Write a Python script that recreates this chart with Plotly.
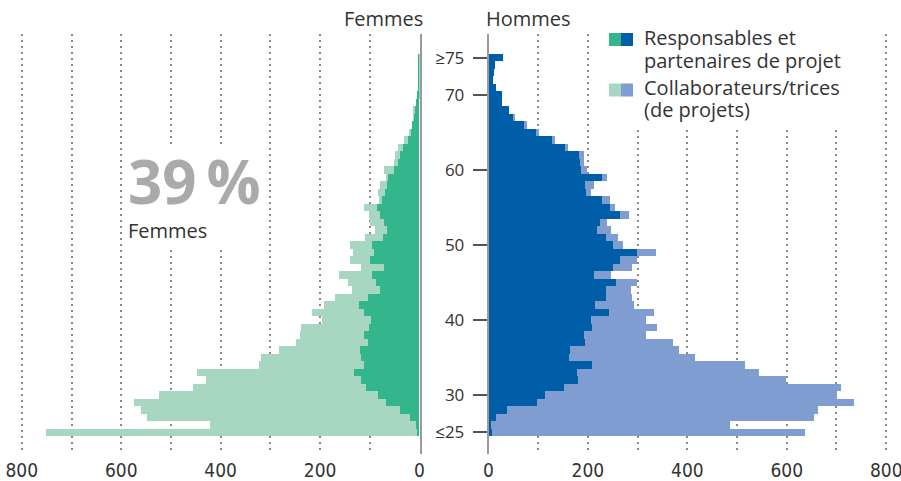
import plotly.graph_objects as go

# Ages 25 (<=25) .. 75 (>=75)
ages = list(range(25, 76))

# Femmes
f_resp = [5, 7, 19, 39, 67, 83, 107, 117, 132, 111, 117, 119, 103, 111, 101, 97, 111, 121, 103, 79,
          87, 95, 71, 99, 91, 95, 73, 65, 71, 79, 85, 75, 69, 65, 63, 51, 42, 39, 33, 23,
          17, 15, 11, 9, 7, 4, 3, 3, 3, 2, 3]
f_coll = [745, 414, 529, 521, 507, 441, 349, 311, 314, 212, 202, 164, 145, 129, 137, 99, 105, 71, 67, 57,
          57, 67, 47, 41, 43, 45, 36, 23, 28, 22, 26, 6, 14, 14, 2, 20, 8, 10, 9, 8,
          4, 0, 1, 2, 0, 0, 0, 0, 0, 0, 0]

# Hommes
h_resp = [7, 5, 15, 37, 97, 113, 150, 180, 178, 208, 160, 162, 194, 192, 208, 206, 242, 214, 236, 236,
          256, 212, 250, 264, 298, 250, 236, 218, 224, 264, 244, 228, 196, 194, 228, 186, 183, 181, 152, 128,
          95, 71, 48, 40, 27, 27, 14, 8, 10, 12, 28]
h_coll = [628, 479, 638, 624, 638, 588, 559, 417, 366, 306, 255, 221, 177, 123, 129, 109, 90, 77, 51, 49,
          41, 34, 37, 33, 37, 20, 24, 28, 14, 17, 10, 16, 10, 18, 10, 12, 8, 10, 6, 4,
          6, 5, 5, 0, 0, 0, 0, 0, 0, 0, 0]

age_tickvals = [25, 30, 40, 50, 60, 70, 75]
age_ticktext = ["≤25", "30", "40", "50", "60", "70", "≥75"]
x_tickvals = [0, 100, 200, 300, 400, 500, 600, 700, 800]
x_ticktext = ["0", "", "200", "", "400", "", "600", "", "800"]

GREEN_D = "#33b68c"
GREEN_L = "#a7d7c1"
BLUE_D = "#005ea8"
BLUE_L = "#7f9dd0"
TXT = "#333333"
FONT = "Open Sans, Noto Sans, sans-serif"
NARROW = "Liberation Sans Narrow, DejaVu Sans Condensed, Roboto, sans-serif"

fig = go.Figure()
fig.add_trace(go.Bar(y=ages, x=f_resp, orientation="h", marker=dict(color=GREEN_D, line=dict(width=0)),
                     xaxis="x", yaxis="y", name="Responsables et partenaires de projet", showlegend=False))
fig.add_trace(go.Bar(y=ages, x=f_coll, orientation="h", marker=dict(color=GREEN_L, line=dict(width=0)),
                     xaxis="x", yaxis="y", name="Collaborateurs/trices (de projets)", showlegend=False))
fig.add_trace(go.Bar(y=ages, x=h_resp, orientation="h", marker=dict(color=BLUE_D, line=dict(width=0)),
                     xaxis="x2", yaxis="y2", name="Responsables et partenaires de projet", showlegend=False))
fig.add_trace(go.Bar(y=ages, x=h_coll, orientation="h", marker=dict(color=BLUE_L, line=dict(width=0)),
                     xaxis="x2", yaxis="y2", name="Collaborateurs/trices (de projets)", showlegend=False))

W, H = 901, 481
TOP, BOTTOM = 34, 454
UNIT = (419.5 - 21.8) / 800.0   # pixels per unit
XMAX = 803

xcommon = dict(tickvals=x_tickvals, ticktext=x_ticktext, showgrid=True, gridcolor="#8a8a8a",
               gridwidth=1.5, griddash="2px,4px", zeroline=False, showline=False, ticks="",
               automargin=False, ticklabelstandoff=3, ticklabeloverflow="allow",
               tickfont=dict(family=NARROW, size=19, color=TXT), fixedrange=True)

fig.update_layout(
    template="none",
    width=W, height=H,
    margin=dict(l=0, r=0, t=TOP, b=H - BOTTOM, pad=0, autoexpand=False),
    paper_bgcolor="white", plot_bgcolor="white",
    barmode="stack", bargap=0,
    font=dict(family=FONT, color=TXT),
    xaxis=dict(domain=[(419.5 - XMAX * UNIT) / W, 419.5 / W], range=[XMAX, 0], anchor="y", **xcommon),
    xaxis2=dict(domain=[488.5 / W, (488.5 + XMAX * UNIT) / W], range=[0, XMAX], anchor="y2", **xcommon),
    yaxis=dict(range=[22.1, 78.15], anchor="x", side="right", showline=True, linecolor="#9a9a9a",
               linewidth=1.5, showgrid=False, zeroline=False, showticklabels=False, ticks="",
               automargin=False, fixedrange=True),
    yaxis2=dict(range=[22.1, 78.15], anchor="x2", side="left", showline=True, linecolor="#9a9a9a",
                linewidth=1.5, showgrid=False, zeroline=False, tickvals=age_tickvals, ticktext=age_ticktext,
                ticks="outside", ticklen=14, tickwidth=1.5, tickcolor="#555555", automargin=False,
                ticklabelstandoff=5, fixedrange=True, tickfont=dict(family=FONT, size=17, color=TXT)),
)

# paper coordinates span the plot area inside the margins
def px(x):
    return x / W

def py(y):
    return (BOTTOM - y) / (BOTTOM - TOP)

shapes = []
# white backgrounds that interrupt the grid behind texts
shapes.append(dict(type="rect", xref="paper", yref="paper", x0=px(127), x1=px(266), y0=py(246), y1=py(147),
                   fillcolor="white", line=dict(width=0), layer="above"))
shapes.append(dict(type="rect", xref="paper", yref="paper", x0=px(600), x1=px(870), y0=py(126), y1=py(20),
                   fillcolor="white", line=dict(width=0), layer="above"))
# legend swatches
for (yc, c1, c2) in [(39.5, GREEN_D, BLUE_D), (90, GREEN_L, BLUE_L)]:
    shapes.append(dict(type="rect", xref="paper", yref="paper", x0=px(609), x1=px(621), y0=py(yc + 6.5),
                       y1=py(yc - 6.5), fillcolor=c1, line=dict(width=0), layer="above"))
    shapes.append(dict(type="rect", xref="paper", yref="paper", x0=px(621), x1=px(633), y0=py(yc + 6.5),
                       y1=py(yc - 6.5), fillcolor=c2, line=dict(width=0), layer="above"))
fig.update_layout(shapes=shapes)

ann = []
def text(x, y, s, size=20, xanchor="left", color=TXT, bold=False):
    ann.append(dict(x=px(x), y=py(y), xref="paper", yref="paper", text=("<b>%s</b>" % s) if bold else s,
                    showarrow=False, xanchor=xanchor, yanchor="middle", borderpad=0,
                    font=dict(family=FONT, size=size, color=color)))

text(424, 19, "Femmes", xanchor="right")
text(485, 19, "Hommes")
text(643, 38, "Responsables et")
text(643, 60, "partenaires de projet")
text(643, 87, "Collaborateurs/trices")
text(643, 109, "(de projets)")
text(127, 181, "39\u2009%", size=60, color="#a9aaac", bold=True)
text(127, 230, "Femmes")
fig.update_layout(annotations=ann)

fig.write_html("out.html", config={"displayModeBar": False},
               post_script="document.body.style.margin='0';document.body.style.overflow='hidden';")
